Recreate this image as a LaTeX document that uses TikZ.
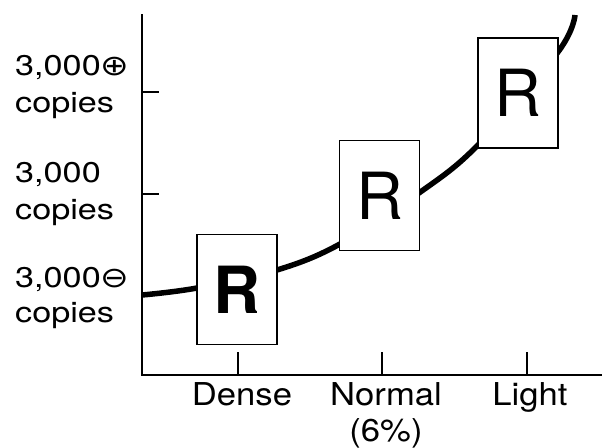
\documentclass[tikz,border=0pt]{standalone}
\usepackage{fontspec}
\setmainfont{TeX Gyre Heros}
\newfontfamily\symfont{DejaVu Sans}
\newcommand\widelab[1]{\scalebox{1.2}[1]{#1}}
\newcommand\widex[1]{\scalebox{1.1}[1]{#1}}
\begin{document}
\begin{tikzpicture}[x=1pt,y=-1pt,
  axis/.style={line width=2pt},
  tick/.style={line width=1.5pt},
  curve/.style={line width=5.5pt},
  rbox/.style={draw,line width=1.5pt,fill=white,minimum width=80pt,minimum height=110pt,inner sep=0pt},
  lab/.style={font=\fontsize{28.5}{34}\selectfont,inner sep=0pt,anchor=base west},
  xlab/.style={font=\fontsize{31.5}{30}\selectfont,inner sep=0pt,anchor=base}]
\useasboundingbox (0,0) rectangle (607,447);
% axes
\coordinate (o) at (142,375);
\coordinate (ytop) at (142,14);
\coordinate (xend) at (602,375);
\draw[axis] (ytop) -- (o) -- (xend);
% y ticks
\coordinate (ya) at (142,92); \coordinate (yb) at (142,194);
\draw[tick] (ya) -- ++(17,0);
\draw[tick] (yb) -- ++(17,0);
% x ticks
\coordinate (xa) at (238,375); \coordinate (xb) at (382,375); \coordinate (xc) at (527,375);
\draw[tick] (xa) -- ++(0,-23);
\draw[tick] (xb) -- ++(0,-23);
\draw[tick] (xc) -- ++(0,-23);
% curve
\draw[curve] plot[smooth,tension=0.6] coordinates {(142,295) (197,288) (277,270) (340,244) (419,193) (478,145) (558,52) (575,15)};
% boxes
\node[rbox,font=\fontsize{65}{65}\selectfont\bfseries] (dense) at (237,289.5) {R};
\node[rbox,font=\fontsize{65}{65}\selectfont] (normal) at (379.5,195.5) {R};
\node[rbox,font=\fontsize{65}{65}\selectfont] (light) at (518,93) {R};
% left labels
\node[lab] (l1a) at (15,75) {\widelab{3,000{\symfont ⊕}}};
\node[lab] (l1b) at (15,112) {\widelab{copies}};
\node[lab] (l2a) at (15,182) {\widelab{3,000}};
\node[lab] (l2b) at (15,219) {\widelab{copies}};
\node[lab] (l3a) at (15,287) {\widelab{3,000{\symfont ⊖}}};
\node[lab] (l3b) at (15,322) {\widelab{copies}};
% bottom labels
\node[xlab] (dl) at (242,405) {\widex{Dense}};
\node[xlab] (nl) at (386,405) {\widex{Normal}};
\node[xlab] (nl2) at (386,441) {\widex{(6\%)}};
\node[xlab] (ll) at (530,405) {\widex{Light}};
\end{tikzpicture}
\end{document}
